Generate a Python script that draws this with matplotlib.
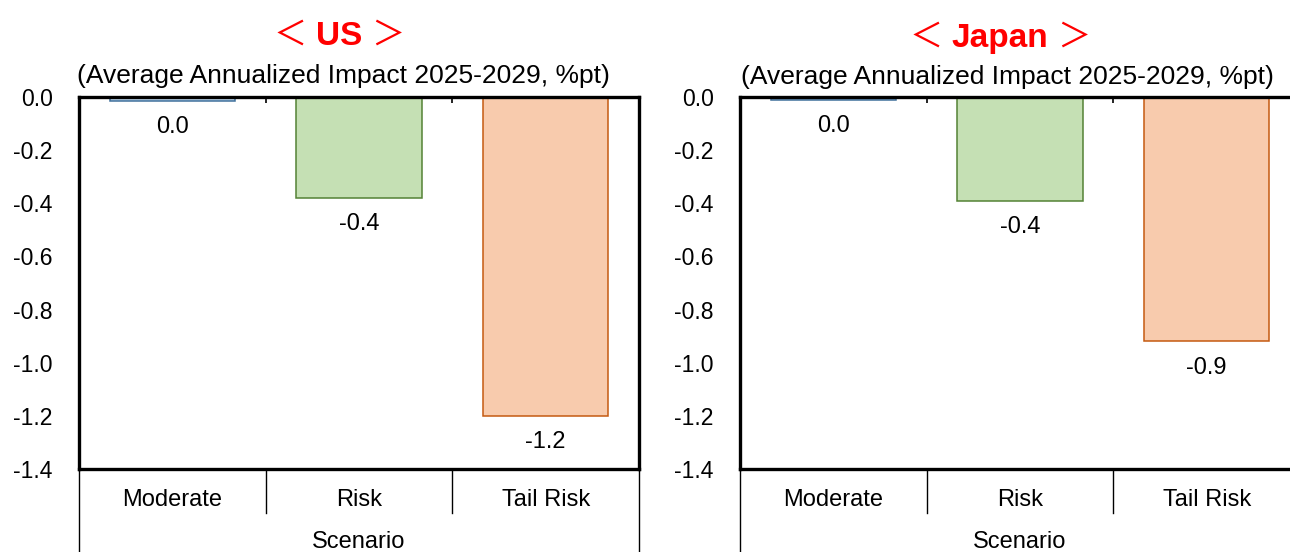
import matplotlib
matplotlib.use("Agg")
import matplotlib.pyplot as plt

plt.rcParams['font.family'] = ['Liberation Sans', 'DejaVu Sans']
plt.rcParams['axes.unicode_minus'] = False

# ---- data -------------------------------------------------------------
scenarios = ["Moderate", "Risk", "Tail Risk"]
us_impact = [-0.015, -0.38, -1.20]
japan_impact = [-0.01, -0.39, -0.92]
y_ticks = [0.0, -0.2, -0.4, -0.6, -0.8, -1.0, -1.2, -1.4]
group_label = "Scenario"
subtitle = "(Average Annualized Impact 2025-2029, %pt)"
panel_names = ["US", "Japan"]

fills = ["#BDD7EE", "#C5E0B4", "#F8CBAD"]
edges = ["#41719C", "#548235", "#C55A11"]

W, H = 1290, 552
fig = plt.figure(figsize=(W / 100, H / 100), dpi=100)


def fmt(v):
    s = f"{v:.1f}"
    return "0.0" if s == "-0.0" else s


def panel(left_px, values):
    ax = fig.add_axes([left_px / W, (H - 469) / H, 560 / W, 372 / H])
    x = [i + 0.5 for i in range(len(scenarios))]
    ax.bar(x, values, width=0.67, color=fills, edgecolor=edges, linewidth=1.1, zorder=2)
    ax.set_xlim(0, len(scenarios))
    ax.set_ylim(y_ticks[-1], y_ticks[0])
    for sp in ax.spines.values():
        sp.set_linewidth(2.4)
        sp.set_color("black")
        sp.set_zorder(3)
    ax.set_yticks(y_ticks)
    ax.set_yticklabels([fmt(t) for t in y_ticks])
    ax.tick_params(axis="y", length=0, pad=19, labelsize=16.5)
    ax.xaxis.tick_top()
    ax.set_xticks(range(1, len(scenarios)))
    ax.set_xticklabels([])
    ax.tick_params(axis="x", direction="in", length=4, width=1.2)

    for xi, v in zip(x, values):
        ax.annotate(fmt(v), xy=(xi, v), xytext=(0, -19), textcoords="offset points",
                    ha="center", va="center", fontsize=17)

    tr = ax.get_xaxis_transform()
    for k in range(len(scenarios) + 1):
        outer = k in (0, len(scenarios))
        ax.plot([k, k], [0, -0.23 if outer else -0.118], transform=tr,
                clip_on=False, color="black", lw=1.0)
    for xi, name in zip(x, scenarios):
        ax.text(xi, -0.083, name, transform=tr, ha="center", va="center", fontsize=17)
    ax.text(len(scenarios) / 2, -0.196, group_label, transform=tr,
            ha="center", va="center", fontsize=17)
    return ax


def bracket_title(cx_px, base_px, word):
    r = fig.canvas.get_renderer()
    t = fig.text(cx_px / W, 1 - base_px / H, word, ha="center", va="baseline",
                 fontsize=24, fontweight="bold", color="#FF0000")
    bb = t.get_window_extent(r)
    gap = 9
    kw = dict(va="baseline", fontsize=24, color="#FF0000",
              family=["Noto Sans CJK JP", "DejaVu Sans"])
    fig.text((bb.x0 - gap) / W, 1 - base_px / H, "＜", ha="right", **kw)
    fig.text((bb.x1 + gap) / W, 1 - base_px / H, "＞", ha="left", **kw)


panel(79, us_impact)
panel(740, japan_impact)

fig.text(343 / W, 1 - 76 / H, subtitle, ha="center", va="center", fontsize=19)
fig.text(1007 / W, 1 - 77 / H, subtitle, ha="center", va="center", fontsize=19)
bracket_title(339, 45, panel_names[0])
bracket_title(1000, 47, panel_names[1])

fig.savefig("out.png", dpi=100)
